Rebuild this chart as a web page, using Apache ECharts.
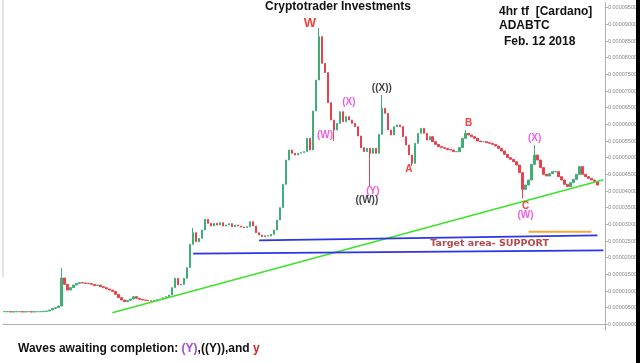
<!DOCTYPE html>
<html><head><meta charset="utf-8">
<script src="https://cdn.jsdelivr.net/npm/echarts@6/dist/echarts.min.js"></script>
<style>html,body{margin:0;padding:0;background:#fff}#c{width:640px;height:363px}</style>
</head><body><div id="c"></div>
<script>
// ADA/BTC 4h closes, in micro-BTC (1e-6 BTC)
const closes = [
3.8,3.8,3.7,3.8,3.8,3.8,3.7,3.8,3.8,3.7,3.8,3.8,3.8,3.9,
4.0,4.3,4.8,5.0,5.5,
13.9,12.0,10.3,11.0,11.8,12.3,12.5,12.4,12.3,12.2,12.0,11.6,11.8,11.3,11.0,10.6,10.3,9.9,9.0,8.0,7.3,
6.8,7.2,7.6,8.3,7.8,7.5,7.3,7.2,7.1,7.0,7.1,7.4,7.6,8.0,8.3,8.8,11.0,13.8,11.8,12.0,
13.8,17.0,24.0,27.5,24.8,25.8,28.3,31.5,30.3,29.5,30.3,29.8,30.5,29.5,29.8,30.2,29.3,29.8,29.5,29.2,
29.0,29.3,30.8,29.5,27.5,26.8,26.3,26.6,26.5,27.0,28.3,31.3,35.0,42.0,49.3,52.3,51.3,50.8,51.3,51.5,
51.8,55.8,52.3,64.0,73.3,86.3,78.3,75.5,66.5,61.3,58.3,60.3,63.8,60.8,62.3,61.3,60.3,59.3,56.5,53.0,
51.8,52.8,51.3,52.8,51.3,57.0,64.8,63.3,58.3,56.8,59.3,59.8,59.3,56.3,53.8,50.8,48.3,54.3,57.3,58.8,
57.3,55.3,56.3,54.8,54.0,53.3,53.0,52.8,52.4,52.3,51.8,51.8,53.0,55.8,57.3,56.8,56.3,55.8,55.0,54.8,
54.8,54.5,54.3,54.0,53.5,52.8,52.0,51.0,50.0,49.5,48.8,47.8,45.5,40.5,41.8,43.3,48.0,50.8,49.3,47.0,
45.0,44.5,45.2,45.8,45.8,44.3,43.3,42.0,41.3,42.5,43.5,45.0,47.3,45.0,44.3,43.8,43.3,42.8,41.8
];
const firstOpen = 3.8;
// notable wicks: [candle index, price]
const spikeHighs = [[19,16.9],[63,28.9],[105,88.9],[126,68.8],[154,58.3],[177,53.8]];
const spikeLows = [[110,55.0],[122,41.3],[136,47.5],[173,37.8]];
const totalSlots = 201;
const yTicks = [0,5,10,15,20,25,30,35,40,45,50,55,60,65,70,75,80,85,90,95];
const xTickSlots = [12,25,48,65,82,98,115,131,148,165,181,198];
// annotation lines: [[slot, price],[slot, price]]
const trendLine = [[36.3,3.5],[200.2,43.4]];
const upperSupport = [[84.9,25.2],[198.2,26.7]];
const lowerSupport = [[62.7,21.2],[199.5,22.2]];
const orangeLine = [[174.5,27.8],[196.2,27.8]];
// wave labels: [text, slot, price, colour, size]
const waveLabels = [
  ['W',102.2,90.3,'#ee1111',13],
  ['(W)',107.2,56.7,'#ee33dd',10],
  ['(X)',114.8,66.6,'#ee33dd',10],
  ['((X))',126.2,70.8,'#111111',10],
  ['(Y)',122.8,39.8,'#ee33dd',10],
  ['((W))',120.8,37.1,'#111111',10],
  ['A',135.3,46.4,'#e11',10],
  ['B',155.2,60.3,'#e11',10],
  ['(X)',177.2,55.8,'#ee33dd',10],
  ['C',173.7,35.3,'#e11',10],
  ['(W)',174.2,32.6,'#ee33dd',10]
];
const targetText = ['Target area- SUPPORT',161.7,24.2];

const U = 1e-6;
const cats = [];
for (let i = 0; i < totalSlots; i++) cats.push(String(i));
const hiMap = {}, loMap = {};
spikeHighs.forEach(d => hiMap[d[0]] = d[1]);
spikeLows.forEach(d => loMap[d[0]] = d[1]);
const candles = closes.map((c, i) => {
  const o = i === 0 ? firstOpen : closes[i - 1];
  let h = Math.max(o, c), l = Math.min(o, c);
  if (hiMap[i] !== undefined) h = Math.max(h, hiMap[i]);
  if (loMap[i] !== undefined) l = Math.min(l, loMap[i]);
  return [o * U, c * U, l * U, h * U];
});
const seg = (pts) => pts.map(p => [p[0], p[1] * U]);
const lineSeries = (pts, color, width) => ({
  type: 'line', data: seg(pts), symbol: 'none', silent: true, animation: false,
  lineStyle: { color: color, width: width }, z: 5
});
const FONT = 'Liberation Sans, Arial, sans-serif';

const chart = echarts.init(document.getElementById('c'), null, { renderer: 'canvas' });
chart.setOption({
  animation: false,
  grid: { left: 3, right: 34, top: 3, bottom: 33 },
  xAxis: {
    type: 'category', data: cats, boundaryGap: true,
    axisLine: { lineStyle: { color: '#b0b0b0' } },
    axisTick: { length: 3, lineStyle: { color: '#b0b0b0' }, interval: (idx) => xTickSlots.indexOf(idx) >= 0 },
    axisLabel: { show: false }, splitLine: { show: false }
  },
  yAxis: {
    type: 'value', position: 'right', min: -1.7 * U, max: 96.4 * U, scale: false,
    axisLine: { show: true, lineStyle: { color: '#b0b0b0' } },
    axisTick: { show: true, length: 3, lineStyle: { color: '#b0b0b0' }, customValues: yTicks.map(v => v * U) },
    axisLabel: { show: true, fontSize: 5.5, color: '#8a8a8a', margin: 3, fontFamily: FONT,
      customValues: yTicks.map(v => v * U), formatter: v => Number(v).toFixed(8) },
    splitLine: { show: false }
  },
  series: [
    lineSeries(trendLine, '#3ee22a', 1.6),
    lineSeries(upperSupport, '#2b35e6', 1.8),
    lineSeries(lowerSupport, '#2b35e6', 1.8),
    lineSeries(orangeLine, '#f2a93b', 2),
    {
      type: 'candlestick', data: candles, barWidth: 2, z: 3,
      itemStyle: { color: '#3fae78', color0: '#e6434c', borderColor: '#3fae78', borderColor0: '#e6434c', borderWidth: 1 }
    },
    {
      type: 'scatter', symbolSize: 0, silent: true, z: 10,
      data: waveLabels.map(w => ({ value: [w[1], w[2] * U],
        label: { show: true, position: 'inside', formatter: w[0], color: w[3], fontSize: w[4], fontWeight: 'bold', fontFamily: FONT } }))
    },
    {
      type: 'scatter', symbolSize: 0, silent: true, z: 10,
      data: [{ value: [targetText[1], targetText[2] * U],
        label: { show: true, position: 'inside', formatter: targetText[0], color: '#a31c1c', fontSize: 9.5, fontWeight: 'bold', fontFamily: 'DejaVu Sans, sans-serif' } }]
    }
  ],
  graphic: [
    { type: 'rect', shape: { x: 636, y: 0, width: 4, height: 363 }, style: { fill: '#000' }, z: 100 },
    { type: 'line', shape: { x1: 3, y1: 0, x2: 3, y2: 277 }, style: { stroke: '#c8c8c8', lineWidth: 1 }, z: 1 },
    { type: 'text', x: 338, y: 7, style: { text: 'Cryptotrader Investments', font: 'bold 12px ' + FONT, fill: '#111', textAlign: 'center', textVerticalAlign: 'middle' }, z: 50 },
    { type: 'text', x: 499, y: 12, style: { text: '4hr tf  [Cardano]', font: 'bold 12px ' + FONT, fill: '#111', textAlign: 'left', textVerticalAlign: 'middle' }, z: 50 },
    { type: 'text', x: 499, y: 26, style: { text: 'ADABTC', font: 'bold 12px ' + FONT, fill: '#111', textAlign: 'left', textVerticalAlign: 'middle' }, z: 50 },
    { type: 'text', x: 504, y: 42, style: { text: 'Feb. 12 2018', font: 'bold 12px ' + FONT, fill: '#111', textAlign: 'left', textVerticalAlign: 'middle' }, z: 50 },
    { type: 'text', x: 18, y: 349, style: {
        text: '{k|Waves awaiting completion: }{p|(Y)}{k|,((Y)),and }{r|y}',
        textVerticalAlign: 'middle',
        rich: {
          k: { font: 'bold 12px ' + FONT, fill: '#111' },
          p: { font: 'bold 12px ' + FONT, fill: '#a04fc4' },
          r: { font: 'bold 12px ' + FONT, fill: '#e41b1b' }
        } }, z: 50 }
  ]
});
</script>
</body></html>
